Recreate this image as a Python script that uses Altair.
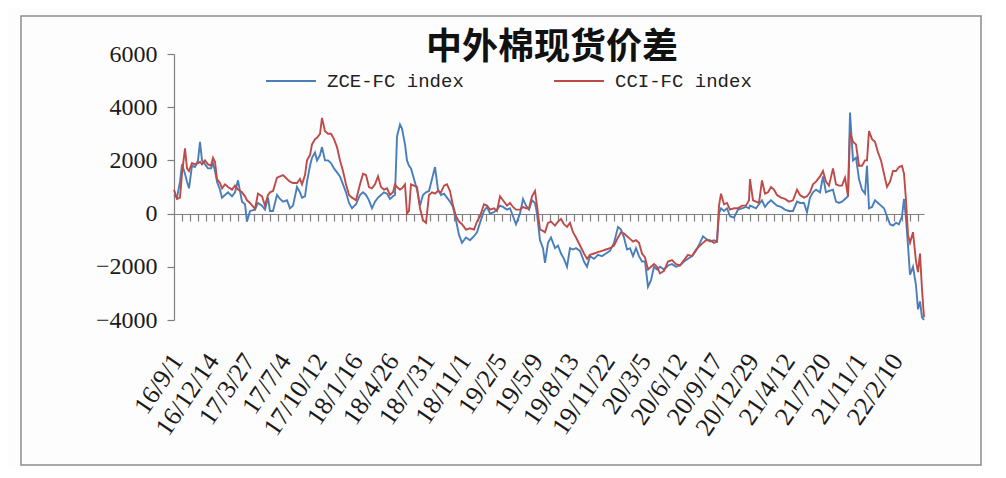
import altair as alt
import pandas as pd

# category index (trading-day position on the category axis)
idx = [
    0, 6, 12, 16, 22, 26, 30, 36, 42, 48,
    52, 56, 62, 68, 74, 78, 82, 86, 92, 96,
    102, 108, 116, 122, 128, 136, 142, 146, 152, 162,
    168, 176, 182, 188, 192, 198, 206, 212, 218, 226,
    232, 238, 246, 252, 256, 262, 266, 272, 276, 282,
    286, 292, 296, 302, 308, 314, 320, 326, 332, 338,
    344, 350, 356, 364, 372, 378, 384, 390, 396, 402,
    408, 414, 420, 426, 432, 438, 442, 446, 452, 456,
    462, 466, 470, 474, 480, 486, 492, 498, 504, 510,
    516, 522, 528, 534, 540, 546, 552, 558, 564, 570,
    576, 584, 592, 600, 606, 612, 620, 626, 632, 640,
    646, 652, 658, 666, 672, 678, 684, 692, 698, 704,
    710, 716, 722, 726, 732, 738, 742, 748, 754, 762,
    768, 774, 780, 786, 792, 798, 804, 812, 820, 826,
    832, 840, 848, 856, 864, 872, 880, 888, 894, 900,
    906, 912, 918, 924, 930, 936, 942, 948, 954, 960,
    966, 972, 980, 988, 996, 1004, 1012, 1020, 1028, 1036,
    1044, 1052, 1058, 1064, 1072, 1080, 1086, 1090, 1094, 1100,
    1106, 1112, 1120, 1128, 1136, 1144, 1150, 1152, 1158, 1164,
    1170, 1176, 1182, 1188, 1194, 1200, 1206, 1214, 1222, 1230,
    1238, 1246, 1252, 1260, 1266, 1272, 1278, 1284, 1292, 1298,
    1304, 1310, 1318, 1324, 1330, 1336, 1342, 1348, 1352, 1358,
    1364, 1370, 1376, 1382, 1386, 1390, 1396, 1402, 1408, 1414,
    1420, 1426, 1432, 1438, 1444, 1450, 1456, 1460, 1464, 1468,
    1472, 1478, 1484, 1488, 1492, 1496, 1500,
]

zce = [
    700, 600, 1200, 1850, 1500, 1200, 950, 1800, 1750, 2000,
    2700, 2000, 1850, 1700, 1700, 1900, 1600, 1200, 900, 600,
    700, 800, 650, 800, 1250, 450, 350, -300, 100, 150,
    400, 300, 150, 600, 100, 100, 700, 550, 450, 500,
    200, 300, 1000, 800, 600, 650, 1200, 1800, 2100, 2300,
    2000, 2200, 2500, 2000, 2000, 1900, 1700, 1550, 1400, 1100,
    800, 400, 200, 350, 700, 800, 700, 500, 200, 450,
    600, 700, 800, 750, 550, 650, 700, 2900, 3350, 3200,
    2600, 2000, 1800, 1700, 1300, 900, 300, 700, 800, 850,
    1300, 1750, 900, 700, 750, 600, 450, 250, -250, -800,
    -1100, -900, -1000, -850, -700, -350, 100, 250, 0, 50,
    150, 300, 250, 150, 200, -100, -400, 0, 550, 300,
    150, 500, 400, 0, -1000, -1300, -1850, -1100, -900, -1300,
    -1200, -1500, -1700, -2000, -1300, -1350, -1300, -1400, -1800, -2000,
    -1600, -1700, -1550, -1600, -1500, -1400, -1100, -500, -600, -900,
    -1350, -1300, -1600, -1300, -1600, -1800, -1800, -2750, -2500, -2000,
    -2100, -2000, -2100, -1950, -1900, -2000, -1950, -1800, -1700, -1600,
    -1400, -1100, -850, -950, -1050, -1000, -1050, 0, 200, 100,
    200, -100, -150, 150, 200, 250, 200, 300, 250, 200,
    350, 500, 250, 400, 500, 400, 300, 250, 150, 100,
    100, 450, 400, 400, 50, 600, 800, 900, 800, 1400,
    800, 850, 900, 450, 400, 450, 550, 650, 3800, 2000,
    2100, 1300, 900, 750, 1800, 200, 250, 500, 400, 300,
    200, -100, -400, -450, -350, -400, -100, 550, -200, -1200,
    -2300, -2000, -2700, -3600, -3300, -3900, -4000,
]

cci = [
    900, 550, 600, 1500, 2450, 1700, 1600, 1900, 1850, 1900,
    1950, 1850, 2000, 1850, 1800, 2100, 1950, 1300, 1150, 950,
    1100, 1000, 900, 1050, 900, 800, 650, 500, 400, 180,
    750, 650, 300, 700, 800, 850, 1350, 1400, 1450, 1300,
    1200, 1150, 1150, 1300, 1100, 1450, 2000, 2200, 2600, 2800,
    2850, 3000, 3600, 3100, 3000, 3000, 2800, 2500, 2000, 1600,
    1100, 700, 600, 500, 1100, 1500, 1450, 1000, 950, 1100,
    1400, 1000, 900, 950, 700, 800, 1100, 1000, 900, 950,
    1100, 0, 100, 1100, 1050, 1000, 200, -250, -350, 700,
    800, 750, 850, 800, 1050, 1100, 850, 300, -100, -300,
    -400, -600, -550, -600, -300, -100, 350, 300, 150, 200,
    100, 650, 500, 300, 400, 250, 150, 150, 250, 200,
    200, 650, 850, 300, -600, -650, -700, -350, -300, -450,
    -300, -200, -400, -500, -350, -700, -900, -1200, -1500, -1700,
    -1550, -1500, -1450, -1400, -1350, -1300, -1200, -900, -700, -750,
    -850, -950, -1050, -1000, -1100, -1500, -1650, -2100, -2000, -1900,
    -2000, -2250, -2150, -1800, -1750, -1900, -1950, -1750, -1550, -1600,
    -1350, -1200, -1100, -1000, -1000, -1100, -1050, 300, 750, 350,
    400, 150, 200, 200, 300, 300, 500, 1300, 500, 450,
    400, 1250, 750, 800, 1000, 900, 700, 600, 550, 450,
    500, 900, 700, 600, 650, 800, 1100, 1200, 1400, 1600,
    1200, 1050, 1700, 1100, 1050, 1050, 1350, 650, 3050, 2700,
    2600, 1800, 1800, 2000, 2000, 3100, 2800, 2700, 2300, 2000,
    1500, 1000, 1200, 1600, 1600, 1750, 1800, 1500, 500, -800,
    -1100, -700, -1800, -2200, -1500, -2850, -3900,
]

date_labels = [
    "16/9/1", "16/12/14", "17/3/27", "17/7/4", "17/10/12", "18/1/16",
    "18/4/26", "18/7/31", "18/11/1", "19/2/5", "19/5/9", "19/8/13",
    "19/11/22", "20/3/5", "20/6/12", "20/9/17", "20/12/29", "21/4/12",
    "21/7/20", "21/11/1", "22/2/10",
]
label_step = 72
tick_step = 16
n_categories = 1500
y_ticks = [-4000, -2000, 0, 2000, 4000, 6000]
series_names = ["ZCE-FC index", "CCI-FC index"]
series_colors = ["#4A7EBB", "#BE4B48"]

assert len(idx) == len(zce) == len(cci)

rows = []
for i, v in zip(idx, zce):
    rows.append({"idx": i, "value": v, "series": series_names[0]})
for i, v in zip(idx, cci):
    rows.append({"idx": i, "value": v, "series": series_names[1]})
df = pd.DataFrame(rows)

W, H = 960, 449
x_scale = alt.Scale(domain=[0, n_categories], range=[153, 903], nice=False, zero=False)
y_scale = alt.Scale(domain=[-4000, 6000], range=[304, 38], nice=False, zero=False)

label_js = "[" + ",".join("'%s'" % s for s in date_labels) + "]"
label_axis = alt.Axis(
    orient="bottom",
    values=[k * label_step for k in range(len(date_labels))],
    labelExpr=label_js + "[round(datum.value/%d)]" % label_step,
    domain=False, ticks=False, grid=False,
    labelAngle=-56, labelAlign="right", labelBaseline="middle",
    labelFont="Liberation Serif", labelFontSize=26, labelColor="#1a1a1a",
    labelPadding=0, labelOffset=3, labelOverlap=False, labelFlush=False, labelBound=False,
    offset=-109, title=None,
)
tick_axis = alt.Axis(
    orient="bottom",
    values=list(range(tick_step, n_categories, tick_step)),
    labels=False, grid=False,
    domain=True, domainColor="#7f7f7f", domainWidth=1.2,
    ticks=True, tickColor="#7f7f7f", tickSize=7, tickWidth=1.2,
    offset=-251, title=None,
)
y_axis = alt.Axis(
    orient="left",
    values=y_ticks, format="d", grid=False,
    domainColor="#7f7f7f", domainWidth=1.2,
    tickColor="#7f7f7f", tickSize=7, tickWidth=1.2,
    labelFont="Liberation Serif", labelFontSize=24, labelColor="#1a1a1a",
    labelPadding=10, offset=-153, title=None,
)

legend = alt.Legend(
    orient="none", legendX=244, legendY=39, direction="horizontal", title=None,
    symbolType="stroke", symbolSize=2500, symbolStrokeWidth=1.8,
    labelFont="Liberation Mono", labelFontSize=19, labelColor="#222222",
    labelOffset=10, columnPadding=86, labelLimit=400,
)

lines = alt.Chart(df).mark_line(strokeWidth=1.9).encode(
    x=alt.X("idx:Q", scale=x_scale, axis=label_axis),
    y=alt.Y("value:Q", scale=y_scale, axis=y_axis),
    color=alt.Color("series:N", scale=alt.Scale(domain=series_names, range=series_colors), legend=legend),
)

zero_axis_layer = alt.Chart(df).mark_line(opacity=0).encode(
    x=alt.X("idx:Q", scale=x_scale, axis=tick_axis),
    y=alt.Y("value:Q", scale=y_scale, axis=y_axis),
    detail="series:N",
)

chart = alt.layer(lines, zero_axis_layer).resolve_axis(x="independent", y="shared").properties(
    width=W, height=H,
    autosize=alt.AutoSizeParams(type="none"),
    padding={"left": 13, "top": 8, "right": 4, "bottom": 4},
    background="#fdfdfe",
    title=alt.TitleParams(
        text="中外棉现货价差", font="Noto Sans CJK SC", fontSize=36, fontWeight="bold",
        color="#111111", anchor="middle", frame="group", offset=-51, dx=51,
    ),
).configure_view(stroke="#8c8c8c", strokeWidth=1.5)

chart.save("out.html", embed_options={"renderer": "svg", "actions": False})
